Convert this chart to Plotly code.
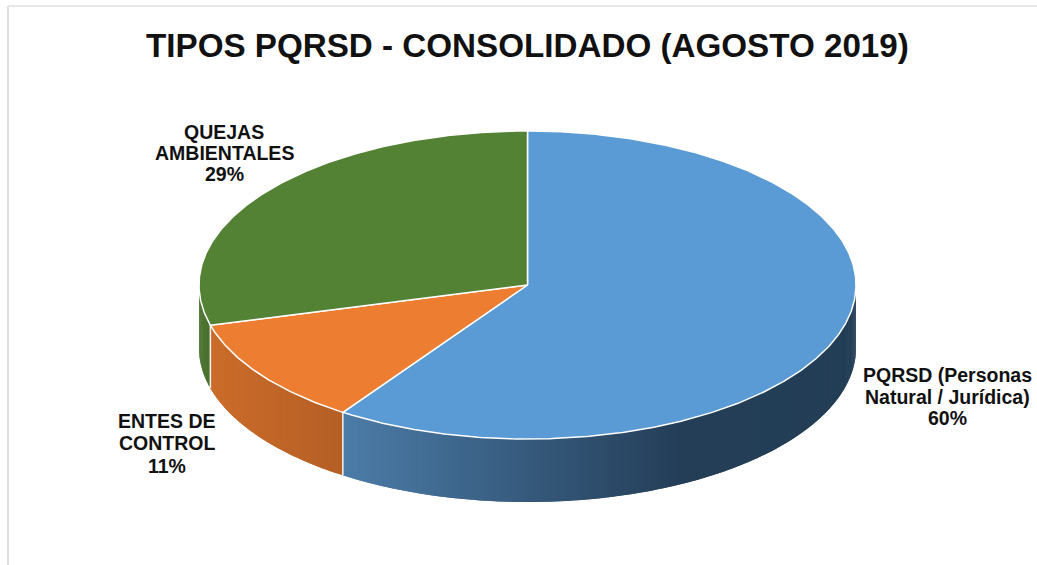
import math
import plotly.graph_objects as go

# Data
categories = [["PQRSD (Personas", "Natural / Jurídica)"], ["ENTES DE", "CONTROL"], ["QUEJAS", "AMBIENTALES"]]
shares = [59.5, 11.3, 29.2]
percent_labels = ["60%", "11%", "29%"]
title_text = "TIPOS PQRSD - CONSOLIDADO (AGOSTO 2019)"

# Styles / geometry
W, H = 1037, 565
CX, CY, RX, RY, DEPTH = 527.5, 285, 328.5, 154, 63
top_colors = ["#5b9bd5", "#ed7d31", "#548235"]
label_x = [947, 167, 224]
label_y = [[375, 397, 418], [421, 443, 466], [132, 153, 174]]


def pt(t, dy=0):
    a = math.radians(t)
    return CX + RX * math.sin(a), CY - RY * math.cos(a) + dy


def lerp(c1, c2, f):
    f = max(0, min(1, f))
    return "rgb(%d,%d,%d)" % tuple(round(a + (b - a) * f) for a, b in zip(c1, c2))


def side_color(i, x):
    if i == 0:
        if x < 680:
            return lerp((76, 124, 168), (36, 62, 88), (x - 343) / (680 - 343))
        return lerp((36, 62, 88), (35, 62, 86), (x - 680) / 150)
    if i == 1:
        return lerp((203, 108, 42), (181, 95, 38), (x - 211) / (343 - 211))
    return "rgb(74,112,46)"


fig = go.Figure()

# angular boundaries from data
bounds = [0]
for s in shares:
    bounds.append(bounds[-1] + s / sum(shares) * 360)

# extruded side walls, only front half is visible; each panel overlaps the next
for i in range(len(shares)):
    a0 = max(bounds[i], 90)
    a1 = min(bounds[i + 1], 270)
    if a1 <= a0:
        continue
    n = max(1, int((a1 - a0) / 0.5))
    for k in range(n):
        t0 = a0 + (a1 - a0) * k / n
        t1 = a0 + (a1 - a0) * (k + 1) / n
        te = a0 + (a1 - a0) * min(k + 2, n) / n
        p = [pt(t0), pt(t1), pt(te), pt(te, DEPTH), pt(t1, DEPTH), pt(t0, DEPTH), pt(t0)]
        col = side_color(i, (pt(t0)[0] + pt(t1)[0]) / 2)
        fig.add_trace(go.Scatter(x=[q[0] for q in p], y=[q[1] for q in p], mode="lines",
                                 fill="toself", fillcolor=col, line=dict(color=col, width=0),
                                 hoverinfo="skip", showlegend=False))

# seam lines on the wall between slices
for b in bounds[1:-1]:
    p = [pt(b), pt(b, DEPTH)]
    fig.add_trace(go.Scatter(x=[q[0] for q in p], y=[q[1] for q in p], mode="lines",
                             line=dict(color="#f2f2f2", width=1.5), hoverinfo="skip", showlegend=False))

# top faces
for i, cat in enumerate(categories):
    a0, a1 = bounds[i], bounds[i + 1]
    n = int(a1 - a0) * 2
    arc = [pt(a0 + (a1 - a0) * k / n) for k in range(n + 1)]
    p = [(CX, CY)] + arc + [(CX, CY)]
    fig.add_trace(go.Scatter(x=[q[0] for q in p], y=[q[1] for q in p], mode="lines",
                             fill="toself", fillcolor=top_colors[i], line=dict(color="#ffffff", width=1.5),
                             name=" ".join(cat), hoverinfo="name", showlegend=False))

# labels
for cat, pct, x, ys in zip(categories, percent_labels, label_x, label_y):
    for line, y in zip(cat + [pct], ys):
        fig.add_annotation(x=x, y=y, text=f"<b>{line}</b>", showarrow=False, align="center",
                           font=dict(family="Liberation Sans, Arial", size=19.5, color="#111111"))

fig.add_annotation(x=527.5, y=45.5, text=f"<b>{title_text}</b>", showarrow=False,
                   font=dict(family="Liberation Sans, Arial", size=33.2, color="#111111"))

# frame
fig.add_shape(type="line", x0=8, x1=8, y0=6, y1=H, line=dict(color="#e0e0e0", width=2))
fig.add_shape(type="line", x0=8, x1=W, y0=6, y1=6, line=dict(color="#e6e6e6", width=2))

fig.update_layout(width=W, height=H, margin=dict(l=0, r=0, t=0, b=0), autosize=False,
                  paper_bgcolor="white", plot_bgcolor="white", showlegend=False,
                  xaxis=dict(range=[0, W], visible=False, fixedrange=True),
                  yaxis=dict(range=[H, 0], visible=False, fixedrange=True))
fig.write_html("out.html", config=dict(displayModeBar=False),
               post_script="document.body.style.margin='0';document.documentElement.style.overflow='hidden';")
